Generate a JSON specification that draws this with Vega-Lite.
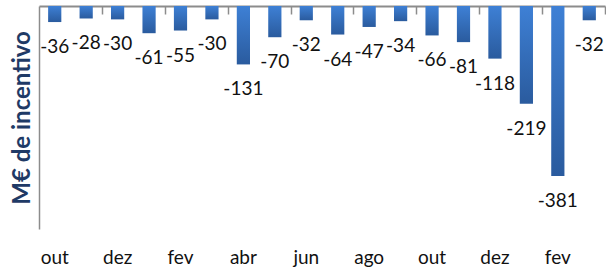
{
  "$schema": "https://vega.github.io/schema/vega-lite/v6.json",
  "width": 566,
  "height": 223,
  "autosize": {"type": "none"},
  "padding": {"left": 39, "top": 6, "right": 1, "bottom": 39},
  "background": "white",
  "config": {"view": {"stroke": null}, "font": "Lato"},
  "data": {
    "values": [
      {"periodo": "out-1", "valor": -36},
      {"periodo": "nov-1", "valor": -28},
      {"periodo": "dez-1", "valor": -30},
      {"periodo": "jan-2", "valor": -61},
      {"periodo": "fev-2", "valor": -55},
      {"periodo": "mar-2", "valor": -30},
      {"periodo": "abr-2", "valor": -131},
      {"periodo": "mai-2", "valor": -70},
      {"periodo": "jun-2", "valor": -32},
      {"periodo": "jul-2", "valor": -64},
      {"periodo": "ago-2", "valor": -47},
      {"periodo": "set-2", "valor": -34},
      {"periodo": "out-2", "valor": -66},
      {"periodo": "nov-2", "valor": -81},
      {"periodo": "dez-2", "valor": -118},
      {"periodo": "jan-3", "valor": -219},
      {"periodo": "fev-3", "valor": -381},
      {"periodo": "mar-3", "valor": -32}
    ]
  },
  "encoding": {
    "x": {
      "field": "periodo",
      "type": "nominal",
      "sort": null,
      "scale": {"paddingInner": 0.58, "paddingOuter": 0.29}
    },
    "y": {
      "field": "valor",
      "type": "quantitative",
      "scale": {"domain": [-500, 0], "nice": false},
      "axis": {
        "title": "M€ de incentivo",
        "titleFont": "Lato",
        "titleFontSize": 24,
        "titleFontWeight": "bold",
        "titleColor": "#1F3A66",
        "titlePadding": 5,
        "labels": false,
        "ticks": false,
        "grid": false,
        "domainColor": "#8C8C8C",
        "domainWidth": 1.5
      }
    }
  },
  "layer": [
    {
      "mark": {
        "type": "bar",
        "color": {
          "gradient": "linear",
          "x1": 0, "y1": 0, "x2": 0, "y2": 1,
          "stops": [
            {"offset": 0, "color": "#3E80D5"},
            {"offset": 1, "color": "#2A5B9E"}
          ]
        }
      },
      "encoding": {
        "x": {
          "field": "periodo",
          "type": "nominal",
          "sort": null,
          "axis": {
            "orient": "top",
            "title": null,
            "labels": false,
            "values": ["nov-1", "jan-2", "mar-2", "mai-2", "jul-2", "set-2", "nov-2", "jan-3", "mar-3"],
            "tickOffset": 15.72,
            "tickSize": -8,
            "tickWidth": 1.5,
            "tickColor": "#8C8C8C",
            "domainColor": "#8C8C8C",
            "domainWidth": 2
          }
        }
      }
    },
    {
      "mark": {"type": "text", "baseline": "alphabetic", "dy": 31, "fontSize": 19, "font": "Lato", "color": "#111111"},
      "encoding": {
        "x": {
          "field": "periodo",
          "type": "nominal",
          "sort": null,
          "axis": {
            "orient": "bottom",
            "title": null,
            "domain": false,
            "ticks": false,
            "labelAngle": 0,
            "labelFont": "Lato",
            "labelFontSize": 19,
            "labelColor": "#111111",
            "labelBaseline": "alphabetic",
            "labelPadding": 34,
            "values": ["out-1", "dez-1", "fev-2", "abr-2", "jun-2", "ago-2", "out-2", "dez-2", "fev-3"],
            "labelExpr": "split(datum.value, '-')[0]"
          }
        },
        "text": {"field": "valor", "type": "nominal"}
      }
    }
  ],
  "resolve": {"axis": {"x": "independent"}}
}
